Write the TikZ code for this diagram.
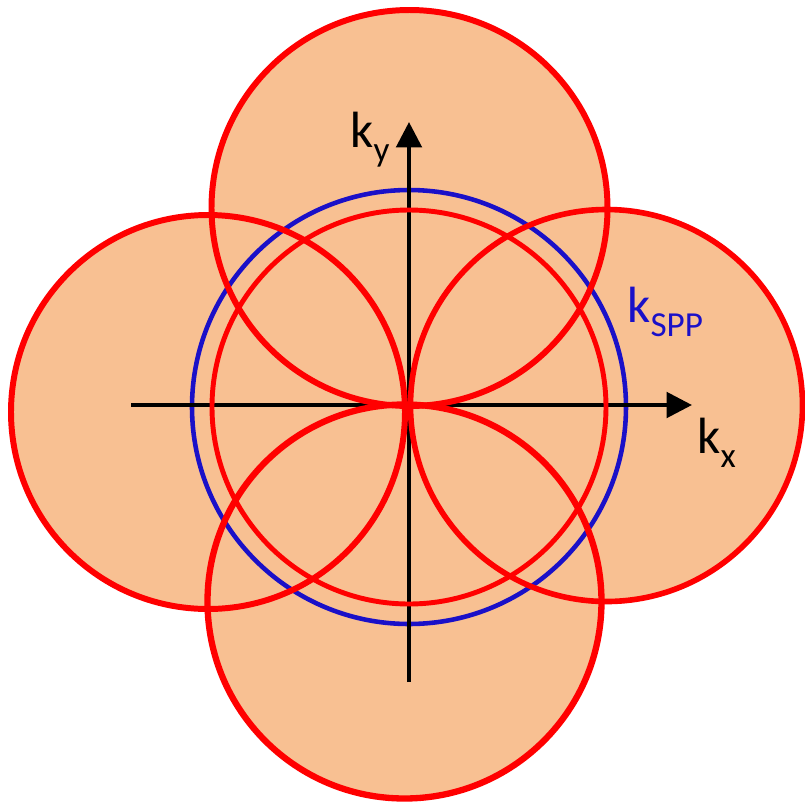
\documentclass[tikz,border=0pt]{standalone}
\usepackage{fontspec}
\setmainfont{Carlito}
\usetikzlibrary{arrows.meta}

\begin{document}
\begin{tikzpicture}[
  x=0.02cm, y=-0.02cm,
  disk/.style={line width=#1, draw=KRed},
  axis/.style={-{Triangle[length=14.5pt, width=14.5pt]}, line width=2.2pt, draw=black},
  label/.style={anchor=base west, inner sep=0pt, font=\fontsize{29}{33}\selectfont}
]
\definecolor{KRed}{HTML}{FF0000}
\definecolor{KBlue}{HTML}{1A10C8}
\definecolor{KFill}{HTML}{F8C092}
\newcommand{\ksub}[1]{\raisebox{-8pt}{\fontsize{20}{24}\selectfont #1}}

\useasboundingbox (0,0) rectangle (805,806);

% centres of the circles
\coordinate (o) at (409,407);
\coordinate (top) at (409.5,208);
\coordinate (left) at (208,412);
\coordinate (right) at (606.5,405.5);
\coordinate (bottom) at (404.5,601.5);

% filled region
\fill[KFill] (top) circle (198) (left) circle (197) (right) circle (196)
  (bottom) circle (197) (o) circle (197);

\draw[line width=2.6pt, draw=KBlue] (o) circle (217);

% axes
\coordinate (xs) at (131,405);
\coordinate (xe) at (692,405);
\coordinate (ys) at (409,682);
\coordinate (ye) at (409,122);
\draw[axis] (xs) -- (xe);
\draw[axis] (ys) -- (ye);

% circles
\draw[disk=2.8pt] (o) circle (197);
\draw[disk=3.4pt] (top) circle (198);
\draw[disk=3.4pt] (left) circle (197);
\draw[disk=3.2pt] (right) circle (196);
\draw[disk=3.6pt] (bottom) circle (197);

\node[label] (ky) at (350,147) {k\ksub{y}};
\node[label] (kx) at (697,453) {k\ksub{x}};
\node[label, text=KBlue] (kspp) at (627,322) {k\ksub{SPP}};
\end{tikzpicture}
\end{document}
